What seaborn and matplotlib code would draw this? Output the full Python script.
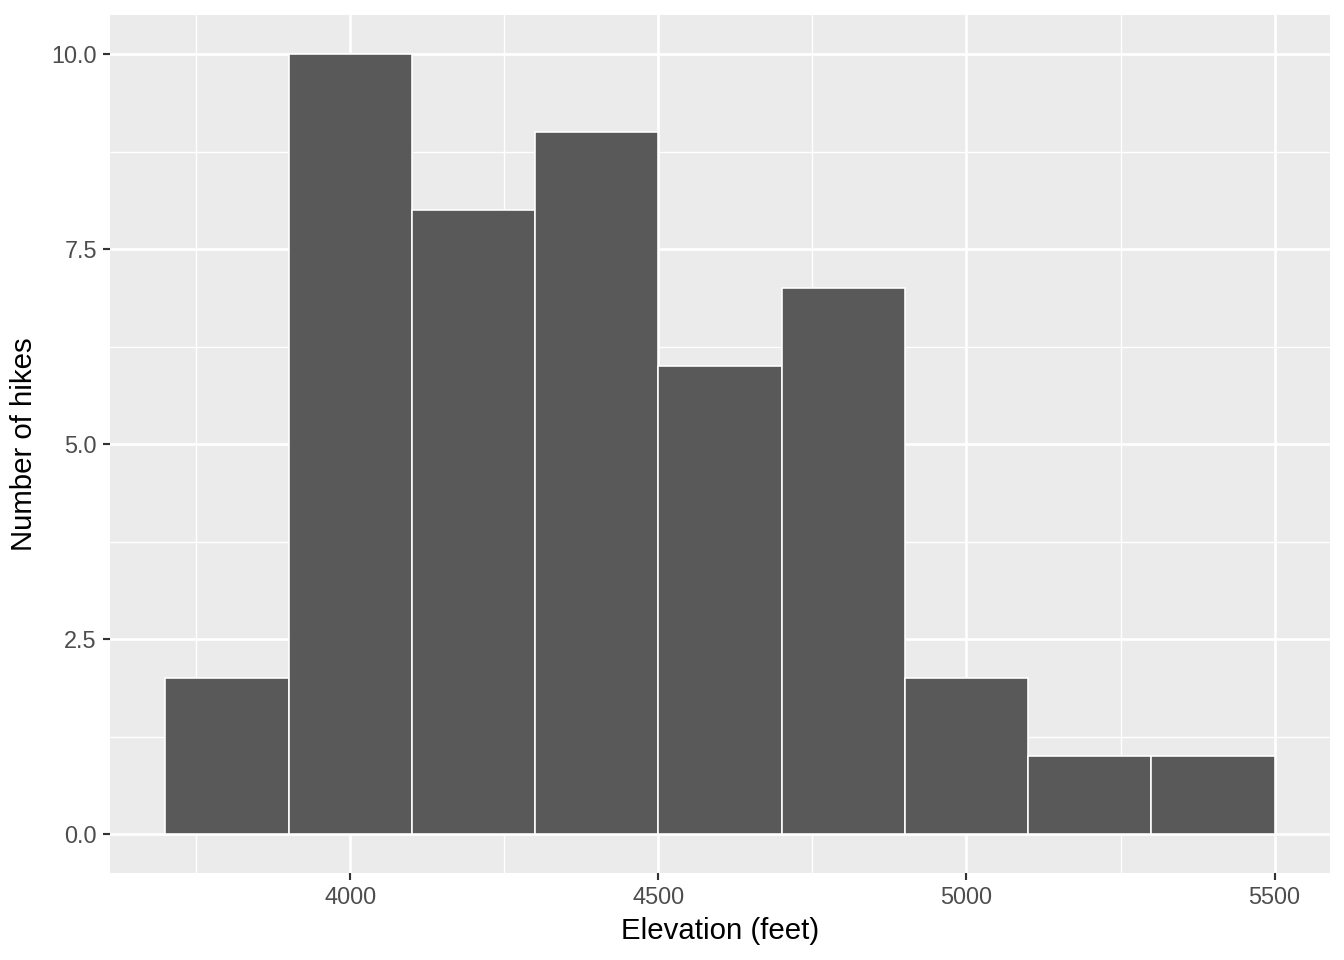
import numpy as np
import pandas as pd
import seaborn as sns
import matplotlib.pyplot as plt
from matplotlib.ticker import FixedLocator

# histogram bins (feet) and counts
bin_edges = [3700, 3900, 4100, 4300, 4500, 4700, 4900, 5100, 5300, 5500]
counts = [2, 10, 8, 9, 6, 7, 2, 1, 1]
x_ticks = [4000, 4500, 5000, 5500]
y_ticks = [0.0, 2.5, 5.0, 7.5, 10.0]

centers = [(a + b) / 2 for a, b in zip(bin_edges[:-1], bin_edges[1:])]
df = pd.DataFrame({"elevation": centers, "n": counts})

sns.set_style("darkgrid")
plt.rcParams['font.family'] = ['Liberation Sans', 'DejaVu Sans']

fig = plt.figure(figsize=(7, 5), dpi=192)
ax = fig.add_axes([110 / 1344, 1 - 873 / 960, 1220 / 1344, 858 / 960])
ax.set_facecolor("#EBEBEB")

sns.histplot(data=df, x="elevation", weights="n", bins=bin_edges, ax=ax,
             color="#595959", edgecolor="white", linewidth=0.6, alpha=1,
             zorder=3)

xr = bin_edges[-1] - bin_edges[0]
ax.set_xlim(bin_edges[0] - 0.05 * xr, bin_edges[-1] + 0.05 * xr)
ax.set_ylim(-0.05 * max(counts), max(counts) * 1.05)

ax.set_xticks(x_ticks)
ax.set_xticklabels([str(v) for v in x_ticks])
ax.set_yticks(y_ticks)
ax.set_yticklabels([f"{v:.1f}" for v in y_ticks])
ax.xaxis.set_minor_locator(FixedLocator([3750, 4250, 4750, 5250]))
ax.yaxis.set_minor_locator(FixedLocator([1.25, 3.75, 6.25, 8.75]))

ax.grid(True, which="major", color="white", linewidth=1.0, zorder=0)
ax.grid(True, which="minor", color="white", linewidth=0.5, zorder=0)
ax.set_axisbelow(True)
for s in ax.spines.values():
    s.set_visible(False)

ax.tick_params(axis="both", which="major", length=2.75, width=0.8,
               color="#333333", labelcolor="#4D4D4D", labelsize=8.8, pad=2.2,
               bottom=True, left=True)
ax.tick_params(axis="both", which="minor", length=0)

ax.set_xlabel("Elevation (feet)", fontsize=11, color="black", labelpad=3)
ax.set_ylabel("Number of hikes", fontsize=11, color="black", labelpad=5)

fig.savefig("out.png", dpi=192)
